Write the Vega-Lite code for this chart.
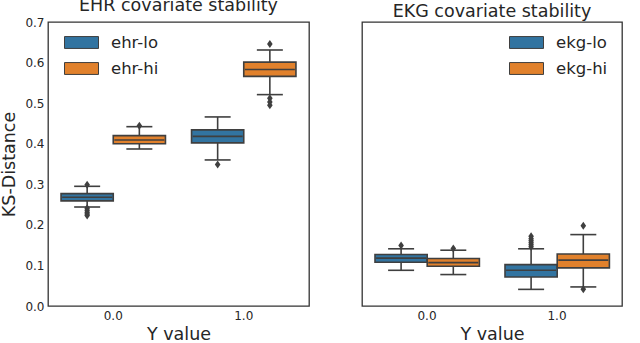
{
  "$schema": "https://vega.github.io/schema/vega-lite/v6.json",
  "padding": {"left": 0, "top": -5, "right": 0, "bottom": 0},
  "spacing": 53,
  "bounds": "flush",
  "background": "white",
  "config": {
    "font": "DejaVu Sans",
    "view": {"stroke": "#333333", "strokeWidth": 1.3},
    "title": {"font": "DejaVu Sans", "fontSize": 17.5, "fontWeight": "normal", "color": "#262626", "baseline": "alphabetic", "offset": 2},
    "axis": {"labelFont": "DejaVu Sans", "titleFont": "DejaVu Sans", "labelFontSize": 12, "titleFontSize": 17.5, "titleFontWeight": "normal", "labelColor": "#262626", "titleColor": "#262626", "ticks": false, "domain": false, "grid": false},
    "legend": {"labelFont": "DejaVu Sans", "labelFontSize": 16.5, "labelColor": "#262626"}
  },
  "datasets": {
    "boxes": [
      {"panel": "EHR", "yv": "0.0", "grp": "lo", "label": "ehr-lo", "q1": 0.259, "med": 0.268, "q3": 0.277, "wlo": 0.244, "whi": 0.295},
      {"panel": "EHR", "yv": "0.0", "grp": "hi", "label": "ehr-hi", "q1": 0.400, "med": 0.409, "q3": 0.420, "wlo": 0.387, "whi": 0.442},
      {"panel": "EHR", "yv": "1.0", "grp": "lo", "label": "ehr-lo", "q1": 0.402, "med": 0.418, "q3": 0.434, "wlo": 0.360, "whi": 0.466},
      {"panel": "EHR", "yv": "1.0", "grp": "hi", "label": "ehr-hi", "q1": 0.566, "med": 0.583, "q3": 0.601, "wlo": 0.521, "whi": 0.631},
      {"panel": "EKG", "yv": "0.0", "grp": "lo", "label": "ekg-lo", "q1": 0.108, "med": 0.118, "q3": 0.127, "wlo": 0.088, "whi": 0.141},
      {"panel": "EKG", "yv": "0.0", "grp": "hi", "label": "ekg-hi", "q1": 0.098, "med": 0.107, "q3": 0.117, "wlo": 0.0775, "whi": 0.1375},
      {"panel": "EKG", "yv": "1.0", "grp": "lo", "label": "ekg-lo", "q1": 0.0716, "med": 0.088, "q3": 0.102, "wlo": 0.041, "whi": 0.141},
      {"panel": "EKG", "yv": "1.0", "grp": "hi", "label": "ekg-hi", "q1": 0.094, "med": 0.113, "q3": 0.128, "wlo": 0.047, "whi": 0.176}
    ],
    "outliers": [
      {"panel": "EHR", "yv": "0.0", "grp": "lo", "v": 0.299},
      {"panel": "EHR", "yv": "0.0", "grp": "lo", "v": 0.241},
      {"panel": "EHR", "yv": "0.0", "grp": "lo", "v": 0.236},
      {"panel": "EHR", "yv": "0.0", "grp": "lo", "v": 0.231},
      {"panel": "EHR", "yv": "0.0", "grp": "lo", "v": 0.227},
      {"panel": "EHR", "yv": "0.0", "grp": "lo", "v": 0.223},
      {"panel": "EHR", "yv": "0.0", "grp": "hi", "v": 0.444},
      {"panel": "EHR", "yv": "1.0", "grp": "lo", "v": 0.349},
      {"panel": "EHR", "yv": "1.0", "grp": "hi", "v": 0.646},
      {"panel": "EHR", "yv": "1.0", "grp": "hi", "v": 0.512},
      {"panel": "EHR", "yv": "1.0", "grp": "hi", "v": 0.503},
      {"panel": "EHR", "yv": "1.0", "grp": "hi", "v": 0.495},
      {"panel": "EKG", "yv": "0.0", "grp": "lo", "v": 0.149},
      {"panel": "EKG", "yv": "0.0", "grp": "hi", "v": 0.142},
      {"panel": "EKG", "yv": "1.0", "grp": "lo", "v": 0.146},
      {"panel": "EKG", "yv": "1.0", "grp": "lo", "v": 0.151},
      {"panel": "EKG", "yv": "1.0", "grp": "lo", "v": 0.156},
      {"panel": "EKG", "yv": "1.0", "grp": "lo", "v": 0.161},
      {"panel": "EKG", "yv": "1.0", "grp": "lo", "v": 0.166},
      {"panel": "EKG", "yv": "1.0", "grp": "lo", "v": 0.172},
      {"panel": "EKG", "yv": "1.0", "grp": "hi", "v": 0.198},
      {"panel": "EKG", "yv": "1.0", "grp": "hi", "v": 0.041}
    ]
  },
  "resolve": {"scale": {"color": "independent"}, "legend": {"color": "independent"}},
  "hconcat": [
    {
      "width": 261, "height": 284,
      "title": {"text": "EHR covariate stability"},
      "layer": [
        {
          "data": {"name": "boxes"},
          "transform": [{"filter": "datum.panel === 'EHR'"}],
          "mark": {"type": "rule", "color": "#3f3f3f", "strokeWidth": 1.6},
          "encoding": {
            "x": {"field": "yv", "type": "nominal", "scale": {"paddingInner": 0.2, "paddingOuter": 0.1}, "axis": {"title": "Y value", "labelAngle": 0, "labelPadding": 4, "titlePadding": 4}},
            "xOffset": {"field": "grp", "type": "nominal", "scale": {"domain": ["lo", "hi"], "paddingInner": 0, "paddingOuter": 0}},
            "y": {"field": "wlo", "type": "quantitative", "scale": {"domain": [0, 0.7], "nice": false, "zero": false}, "axis": {"title": "KS-Distance", "values": [0, 0.1, 0.2, 0.3, 0.4, 0.5, 0.6, 0.7], "format": ".1f", "labelPadding": 4, "titlePadding": 6}},
            "y2": {"field": "whi"}
          }
        },
        {
          "data": {"name": "boxes"},
          "transform": [{"filter": "datum.panel === 'EHR'"}],
          "mark": {"type": "bar", "stroke": "#3f3f3f", "strokeWidth": 1.6},
          "encoding": {
            "x": {"field": "yv", "type": "nominal"},
            "xOffset": {"field": "grp", "type": "nominal"},
            "y": {"field": "q1", "type": "quantitative"},
            "y2": {"field": "q3"},
            "color": {"field": "label", "type": "nominal", "scale": {"domain": ["ehr-lo", "ehr-hi"], "range": ["#3274a1", "#e1812c"]}, "legend": {"title": null, "orient": "none", "legendX": 16, "legendY": 3, "symbolType": "M-1,-0.35L1,-0.35L1,0.35L-1,0.35Z", "symbolSize": 1156, "symbolStrokeColor": "#3f3f3f", "symbolStrokeWidth": 1, "symbolOpacity": 1, "labelOffset": 12, "rowPadding": -2}}
          }
        },
        {
          "data": {"name": "boxes"},
          "transform": [{"filter": "datum.panel === 'EHR'"}],
          "mark": {"type": "tick", "color": "#3f3f3f", "thickness": 1.6, "size": 50, "opacity": 1},
          "encoding": {
            "x": {"field": "yv", "type": "nominal"},
            "xOffset": {"field": "grp", "type": "nominal"},
            "y": {"field": "med", "type": "quantitative"}
          }
        },
        {
          "data": {"name": "boxes"},
          "transform": [{"filter": "datum.panel === 'EHR'"}],
          "mark": {"type": "tick", "color": "#3f3f3f", "thickness": 1.6, "size": 26, "opacity": 1},
          "encoding": {
            "x": {"field": "yv", "type": "nominal"},
            "xOffset": {"field": "grp", "type": "nominal"},
            "y": {"field": "wlo", "type": "quantitative"}
          }
        },
        {
          "data": {"name": "boxes"},
          "transform": [{"filter": "datum.panel === 'EHR'"}],
          "mark": {"type": "tick", "color": "#3f3f3f", "thickness": 1.6, "size": 26, "opacity": 1},
          "encoding": {
            "x": {"field": "yv", "type": "nominal"},
            "xOffset": {"field": "grp", "type": "nominal"},
            "y": {"field": "whi", "type": "quantitative"}
          }
        },
        {
          "data": {"name": "outliers"},
          "transform": [{"filter": "datum.panel === 'EHR'"}],
          "mark": {"type": "point", "filled": true, "color": "#3f3f3f", "opacity": 1, "size": 64, "shape": "M0,-1L0.7,0L0,1L-0.7,0Z"},
          "encoding": {
            "x": {"field": "yv", "type": "nominal"},
            "xOffset": {"field": "grp", "type": "nominal"},
            "y": {"field": "v", "type": "quantitative"}
          }
        }
      ]
    },
    {
      "width": 260, "height": 284,
      "title": {"text": "EKG covariate stability"},
      "layer": [
        {
          "data": {"name": "boxes"},
          "transform": [{"filter": "datum.panel === 'EKG'"}],
          "mark": {"type": "rule", "color": "#3f3f3f", "strokeWidth": 1.6},
          "encoding": {
            "x": {"field": "yv", "type": "nominal", "scale": {"paddingInner": 0.2, "paddingOuter": 0.1}, "axis": {"title": "Y value", "labelAngle": 0, "labelPadding": 4, "titlePadding": 4}},
            "xOffset": {"field": "grp", "type": "nominal", "scale": {"domain": ["lo", "hi"], "paddingInner": 0, "paddingOuter": 0}},
            "y": {"field": "wlo", "type": "quantitative", "scale": {"domain": [0, 0.7], "nice": false, "zero": false}, "axis": null},
            "y2": {"field": "whi"}
          }
        },
        {
          "data": {"name": "boxes"},
          "transform": [{"filter": "datum.panel === 'EKG'"}],
          "mark": {"type": "bar", "stroke": "#3f3f3f", "strokeWidth": 1.6},
          "encoding": {
            "x": {"field": "yv", "type": "nominal"},
            "xOffset": {"field": "grp", "type": "nominal"},
            "y": {"field": "q1", "type": "quantitative"},
            "y2": {"field": "q3"},
            "color": {"field": "label", "type": "nominal", "scale": {"domain": ["ekg-lo", "ekg-hi"], "range": ["#3274a1", "#e1812c"]}, "legend": {"title": null, "orient": "none", "legendX": 147, "legendY": 3, "symbolType": "M-1,-0.35L1,-0.35L1,0.35L-1,0.35Z", "symbolSize": 1156, "symbolStrokeColor": "#3f3f3f", "symbolStrokeWidth": 1, "symbolOpacity": 1, "labelOffset": 12, "rowPadding": -2}}
          }
        },
        {
          "data": {"name": "boxes"},
          "transform": [{"filter": "datum.panel === 'EKG'"}],
          "mark": {"type": "tick", "color": "#3f3f3f", "thickness": 1.6, "size": 50, "opacity": 1},
          "encoding": {
            "x": {"field": "yv", "type": "nominal"},
            "xOffset": {"field": "grp", "type": "nominal"},
            "y": {"field": "med", "type": "quantitative"}
          }
        },
        {
          "data": {"name": "boxes"},
          "transform": [{"filter": "datum.panel === 'EKG'"}],
          "mark": {"type": "tick", "color": "#3f3f3f", "thickness": 1.6, "size": 26, "opacity": 1},
          "encoding": {
            "x": {"field": "yv", "type": "nominal"},
            "xOffset": {"field": "grp", "type": "nominal"},
            "y": {"field": "wlo", "type": "quantitative"}
          }
        },
        {
          "data": {"name": "boxes"},
          "transform": [{"filter": "datum.panel === 'EKG'"}],
          "mark": {"type": "tick", "color": "#3f3f3f", "thickness": 1.6, "size": 26, "opacity": 1},
          "encoding": {
            "x": {"field": "yv", "type": "nominal"},
            "xOffset": {"field": "grp", "type": "nominal"},
            "y": {"field": "whi", "type": "quantitative"}
          }
        },
        {
          "data": {"name": "outliers"},
          "transform": [{"filter": "datum.panel === 'EKG'"}],
          "mark": {"type": "point", "filled": true, "color": "#3f3f3f", "opacity": 1, "size": 64, "shape": "M0,-1L0.7,0L0,1L-0.7,0Z"},
          "encoding": {
            "x": {"field": "yv", "type": "nominal"},
            "xOffset": {"field": "grp", "type": "nominal"},
            "y": {"field": "v", "type": "quantitative"}
          }
        }
      ]
    }
  ]
}
